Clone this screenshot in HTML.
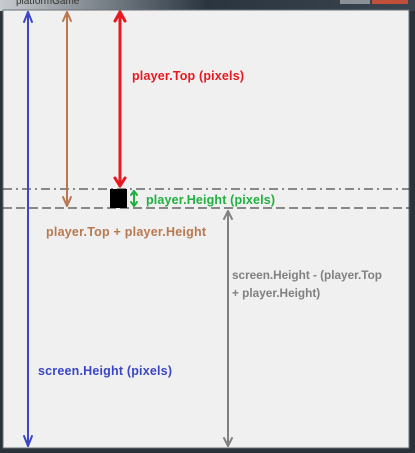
<!DOCTYPE html><html><head><style>
body{margin:0;width:415px;height:453px;overflow:hidden;background:#2a3138;font-family:"Liberation Sans",Arial,sans-serif}
</style></head><body>
<svg width="415" height="453" style="position:absolute;left:0;top:0">
<defs><linearGradient id="g" x1="0" x2="1"><stop offset="0" stop-color="#c8ccd0"/><stop offset="0.5" stop-color="#2a3540"/><stop offset="1" stop-color="#3a4550"/></linearGradient></defs>
<rect x="0" y="0" width="415" height="11" fill="url(#g)"/>
<rect x="340" y="0" width="30" height="4" fill="#8a9098"/><rect x="372" y="0" width="36" height="4" fill="#c0503a"/>
<text x="16" y="4" font-size="10" fill="#333">platformGame</text>
<rect x="3" y="10" width="406" height="438" fill="#f0f0f0" stroke="#6a7076" stroke-width="1"/>
<g stroke-width="1" fill="none">
<line x1="3" y1="189" x2="409" y2="189" stroke="#222" stroke-dasharray="9,4,2,4"/>
<line x1="3" y1="208" x2="409" y2="208" stroke="#222" stroke-dasharray="9,4"/>
</g>
<g fill="none" stroke-width="2" stroke-linecap="round" stroke-linejoin="round">
<g stroke="#3a45c8"><line x1="28" y1="12" x2="28" y2="446"/><polyline points="24,22 28,12 32,22"/><polyline points="24,436 28,446 32,436"/></g>
<g stroke="#b87850"><line x1="67" y1="12" x2="67" y2="206"/><polyline points="63,21 67,12 71,21"/><polyline points="63,197 67,206 71,197"/></g>
<g stroke="#e81820" stroke-width="3"><line x1="120" y1="12" x2="120" y2="186"/><polyline points="115,21 120,12 125,21"/><polyline points="115,178 120,186 125,178"/></g>
<g stroke="#20b040"><line x1="134" y1="191" x2="134" y2="206"/><polyline points="131,195 134,191 137,195"/><polyline points="131,202 134,206 137,202"/></g>
<g stroke="#808080"><line x1="228" y1="211" x2="228" y2="446"/><polyline points="224,219 228,211 232,219"/><polyline points="224,438 228,446 232,438"/></g>
</g>
<rect x="110" y="189" width="17" height="19" fill="#000"/>
<g font-size="12.5" font-weight="bold">
<text x="132" y="80" fill="#e81820" textLength="112">player.Top (pixels)</text>
<text x="146" y="204" fill="#20b040" textLength="129">player.Height (pixels)</text>
<text x="46" y="236" fill="#b87850" textLength="160">player.Top + player.Height</text>
<text x="232" y="279" fill="#808080" textLength="150" font-size="11.8">screen.Height - (player.Top</text>
<text x="232" y="297" fill="#808080" font-size="11.8">+ player.Height)</text>
<text x="38" y="375" fill="#3a45c8" textLength="134">screen.Height (pixels)</text>
</g>
</svg>
</body></html>
